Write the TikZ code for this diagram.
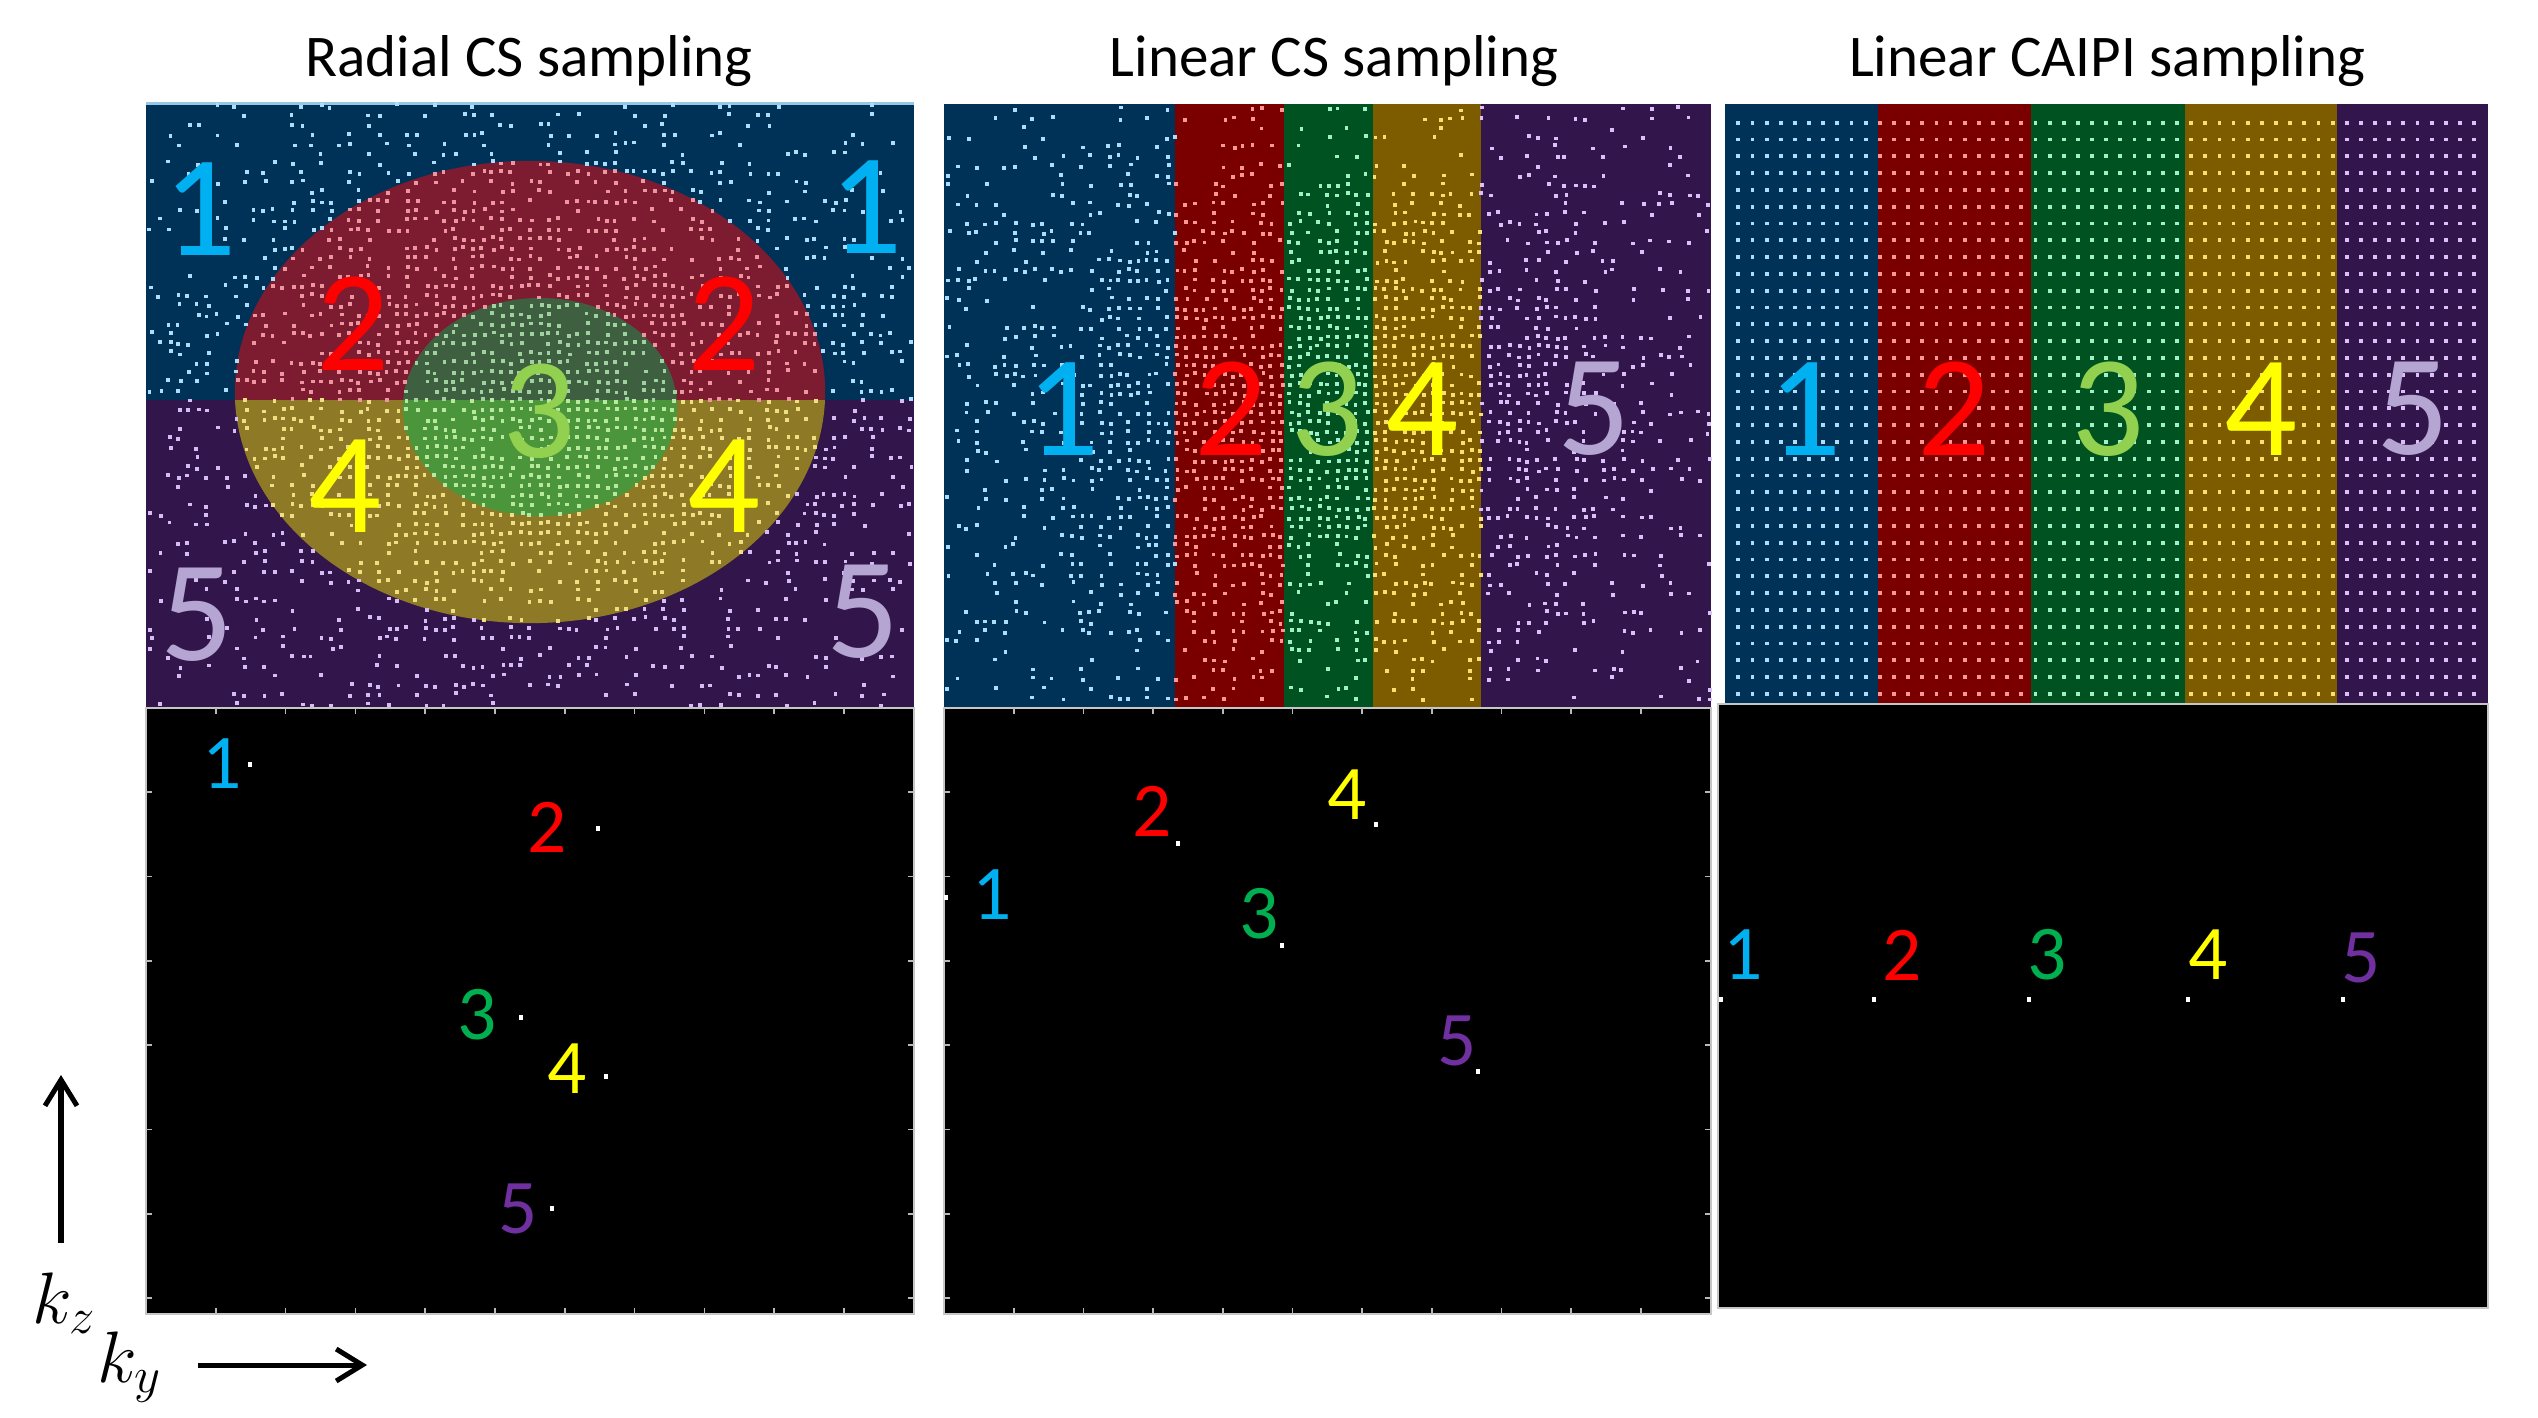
\documentclass[tikz,border=0pt]{standalone}
\usepackage{fontspec}
\setmainfont{Carlito}
\usetikzlibrary{arrows.meta}
\definecolor{bgblue}{RGB}{0,50,88}
\definecolor{bgpurple}{RGB}{50,22,75}
\definecolor{redtop}{RGB}{125,27,48}
\definecolor{yellowbot}{RGB}{142,122,38}
\definecolor{greentop}{RGB}{62,96,64}
\definecolor{greenbot}{RGB}{75,150,58}
\definecolor{colred}{RGB}{122,0,0}
\definecolor{colgreen}{RGB}{0,82,32}
\definecolor{colgold}{RGB}{125,92,0}
% dot colours, radial panel
\definecolor{dpa1}{RGB}{170,222,250}
\definecolor{dpa2}{RGB}{212,188,245}
\definecolor{dpa3}{RGB}{238,150,160}
\definecolor{dpa4}{RGB}{240,222,130}
\definecolor{dpa5}{RGB}{160,210,160}
\definecolor{dpa6}{RGB}{185,232,160}
% dot colours, column panels
\definecolor{dpb1}{RGB}{170,222,250}
\definecolor{dpb2}{RGB}{255,150,150}
\definecolor{dpb3}{RGB}{160,240,200}
\definecolor{dpb4}{RGB}{250,222,110}
\definecolor{dpb5}{RGB}{220,190,250}
% digit colours
\definecolor{dcyan}{RGB}{0,176,240}
\definecolor{dred}{RGB}{255,0,0}
\definecolor{dlgreen}{RGB}{146,208,80}
\definecolor{dyellow}{RGB}{255,255,0}
\definecolor{dlav}{RGB}{180,165,210}
\definecolor{dgreen}{RGB}{0,176,80}
\definecolor{dpurple}{RGB}{112,48,160}
\begin{document}
\begin{tikzpicture}[x=0.01cm,y=-0.01cm,
  titletext/.style={font=\fontsize{16.8}{20}\selectfont, anchor=base, inner sep=0pt},
  bigdigit/.style={font=\fontsize{41}{45}\selectfont, inner sep=0pt, anchor=center},
  smalldigit/.style={font=\fontsize{22}{24}\selectfont, inner sep=0pt, anchor=center},
  axarrow/.style={line width=0.05cm, -{Straight Barb[length=0.26cm,width=0.32cm]}},
  axtick/.style={gray!55, line width=0.5pt},
  blackpanel/.style={fill=black, draw=gray!45, line width=0.5pt},
  kdot/.style={fill=white}
]
\useasboundingbox (0,0) rectangle (2538,1417);
\fill[white] (0,0) rectangle (2538,1417);

% ---------------- titles
\node[titletext] (t1) at (529,76) {Radial CS sampling};
\node[titletext] (t2) at (1334,76) {Linear CS sampling};
\node[titletext] (t3) at (2107,76) {Linear CAIPI sampling};

% ---------------- panel 1 top : radial CS
\fill[bgblue] (146,102) rectangle (914,400);
\fill[bgpurple] (146,400) rectangle (914,708);
\begin{scope}
  \clip (146,102) rectangle (914,400);
  \fill[redtop] (530,392) ellipse [x radius=2.95cm, y radius=2.31cm];
  \fill[greentop] (540,407) ellipse [x radius=1.37cm, y radius=1.09cm];
\end{scope}
\begin{scope}
  \clip (146,400) rectangle (914,708);
  \fill[yellowbot] (530,392) ellipse [x radius=2.95cm, y radius=2.31cm];
  \fill[greenbot] (540,407) ellipse [x radius=1.37cm, y radius=1.09cm];
\end{scope}
\draw[color={rgb,255:red,150;green,200;blue,230}, line width=0.03cm] (146,103) -- (914,103);
\pgfmathsetseed{4242}
\foreach \i in {0,...,80}{
  \foreach \j in {0,...,63}{
    \pgfmathsetmacro\px{150.5+9.5*\i+3.6*rnd-1.8}
    \pgfmathsetmacro\py{106+9.5*\j+3.6*rnd-1.8}
    \pgfmathsetmacro\rr{veclen((\px-530)/384,(\py-405)/303)}
    \pgfmathtruncatemacro\ok{rnd<0.08+0.85*exp(-\rr*\rr/0.5625)}
    \ifnum\ok=1
      \pgfmathtruncatemacro\reg{(veclen((\px-540)/137,(\py-407)/109)<1)?((\py<400)?5:6):((veclen((\px-530)/295,(\py-392)/231)<1)?((\py<400)?3:4):((\py<400)?1:2))}
      \fill[dpa\reg] (\px-1.9,\py-1.9) rectangle ++(3.8,3.8);
    \fi
  }
}
\node[bigdigit, dcyan] (a1l) at (200,209) {1};
\node[bigdigit, dcyan] (a1r) at (866,207) {1};
\node[bigdigit, dred] (a2l) at (353,324) {2};
\node[bigdigit, dred] (a2r) at (724,324) {2};
\node[bigdigit, dlgreen] (a3) at (539,411) {3};
\node[bigdigit, dyellow] (a4l) at (345,486) {4};
\node[bigdigit, dyellow] (a4r) at (724,486) {4};
\node[bigdigit, dlav] (a5l) at (197,615) {5};
\node[bigdigit, dlav] (a5r) at (863,612) {5};

% ---------------- panel 2 top : linear CS
\fill[bgblue] (944,104) rectangle (1175,708);
\fill[colred] (1175,104) rectangle (1284,708);
\fill[colgreen] (1284,104) rectangle (1373,708);
\fill[colgold] (1373,104) rectangle (1481,708);
\fill[bgpurple] (1481,104) rectangle (1711,708);
\pgfmathsetseed{777}
\foreach \i in {0,...,80}{
  \foreach \j in {0,...,62}{
    \pgfmathsetmacro\px{948.5+9.5*\i+3.6*rnd-1.8}
    \pgfmathsetmacro\py{109+9.5*\j+3.6*rnd-1.8}
    \pgfmathsetmacro\rr{veclen((\px-1327)/384,(\py-406)/302)}
    \pgfmathtruncatemacro\ok{rnd<0.08+0.85*exp(-\rr*\rr/0.5625)}
    \ifnum\ok=1
      \pgfmathtruncatemacro\reg{(\px<1175)?1:((\px<1284)?2:((\px<1373)?3:((\px<1481)?4:5)))}
      \fill[dpb\reg] (\px-1.9,\py-1.9) rectangle ++(3.8,3.8);
    \fi
  }
}
\node[bigdigit, dcyan] (b1) at (1063,409) {1};
\node[bigdigit, dred] (b2) at (1231,409) {2};
\node[bigdigit, dlgreen] (b3) at (1327,409) {3};
\node[bigdigit, dyellow] (b4) at (1422,409) {4};
\node[bigdigit, dlav] (b5) at (1594,409) {5};

% ---------------- panel 3 top : linear CAIPI
\fill[bgblue] (1725,104) rectangle (1878,704);
\fill[colred] (1878,104) rectangle (2031,704);
\fill[colgreen] (2031,104) rectangle (2185,704);
\fill[colgold] (2185,104) rectangle (2337,704);
\fill[bgpurple] (2337,104) rectangle (2488,704);
\foreach \i in {0,...,52}{
  \pgfmathsetmacro\qx{1738.3+14.15*\i}
  \pgfmathtruncatemacro\reg{(\qx<1878)?1:((\qx<2031)?2:((\qx<2185)?3:((\qx<2337)?4:5)))}
  \foreach \j in {0,...,34}{
    \fill[dpb\reg] (\qx-1.9,122.7+16.8*\j-1.9) rectangle ++(3.8,3.8);
  }
}
\node[bigdigit, dcyan] (c1) at (1805,409) {1};
\node[bigdigit, dred] (c2) at (1954,409) {2};
\node[bigdigit, dlgreen] (c3) at (2108,409) {3};
\node[bigdigit, dyellow] (c4) at (2261,409) {4};
\node[bigdigit, dlav] (c5) at (2413,409) {5};

% ---------------- bottom panels
\draw[blackpanel] (146,708) rectangle (914,1314);
\draw[blackpanel] (944,708) rectangle (1711,1314);
\draw[blackpanel] (1718,704) rectangle (2488,1308);
\foreach \k in {1,...,10}{
  \draw[axtick] (146+69.8*\k,1314) -- ++(0,-6);
  \draw[axtick] (146+69.8*\k,708) -- ++(0,6);
  \draw[axtick] (944+69.7*\k,1314) -- ++(0,-6);
  \draw[axtick] (944+69.7*\k,708) -- ++(0,6);
}
\foreach \k in {1,...,7}{
  \draw[axtick] (146,708+84.3*\k) -- ++(6,0);
  \draw[axtick] (914,708+84.3*\k) -- ++(-6,0);
  \draw[axtick] (944,708+84.3*\k) -- ++(6,0);
  \draw[axtick] (1711,708+84.3*\k) -- ++(-6,0);
}

% panel 1 bottom
\fill[kdot] (247.5,761.5) rectangle ++(4,5);
\fill[kdot] (596,825.5) rectangle ++(4,5);
\fill[kdot] (518.5,1015) rectangle ++(4,5);
\fill[kdot] (604,1073.5) rectangle ++(4,5);
\fill[kdot] (550,1205.5) rectangle ++(4,5);
\node[smalldigit, dcyan] (d1) at (222,764) {1};
\node[smalldigit, dred] (d2) at (547,827) {2};
\node[smalldigit, dgreen] (d3) at (477,1015) {3};
\node[smalldigit, dyellow] (d4) at (567,1069) {4};
\node[smalldigit, dpurple] (d5) at (518,1209) {5};

% panel 2 bottom
\fill[kdot] (944,894.5) rectangle ++(4,5);
\fill[kdot] (1176,840.5) rectangle ++(4,5);
\fill[kdot] (1374,821.5) rectangle ++(4,5);
\fill[kdot] (1280,942.5) rectangle ++(4,5);
\fill[kdot] (1476,1068.5) rectangle ++(4,5);
\node[smalldigit, dcyan] (e1) at (992,895) {1};
\node[smalldigit, dred] (e2) at (1152,811) {2};
\node[smalldigit, dgreen] (e3) at (1259,914) {3};
\node[smalldigit, dyellow] (e4) at (1347,795) {4};
\node[smalldigit, dpurple] (e5) at (1457,1041) {5};

% panel 3 bottom
\fill[kdot] (1719,996.5) rectangle ++(4,5);
\fill[kdot] (1872,996.5) rectangle ++(4,5);
\fill[kdot] (2027,996.5) rectangle ++(4,5);
\fill[kdot] (2186,996.5) rectangle ++(4,5);
\fill[kdot] (2341,996.5) rectangle ++(4,5);
\node[smalldigit, dcyan] (f1) at (1743,955) {1};
\node[smalldigit, dred] (f2) at (1902,955) {2};
\node[smalldigit, dgreen] (f3) at (2047,955) {3};
\node[smalldigit, dyellow] (f4) at (2208,955) {4};
\node[smalldigit, dpurple] (f5) at (2361,958) {5};

% ---------------- axes
\coordinate (kzs) at (61,1243);
\coordinate (kze) at (61,1075);
\coordinate (kys) at (198,1365);
\coordinate (kye) at (367,1365);
\draw[axarrow] (kzs) -- (kze);
\draw[axarrow] (kys) -- (kye);
\node[anchor=base west, inner sep=0pt, font=\fontsize{21}{24}\selectfont] (kz) at (32,1323) {$k_z$};
\node[anchor=base west, inner sep=0pt, font=\fontsize{21}{24}\selectfont] (ky) at (97,1382) {$k_y$};
\end{tikzpicture}
\end{document}
